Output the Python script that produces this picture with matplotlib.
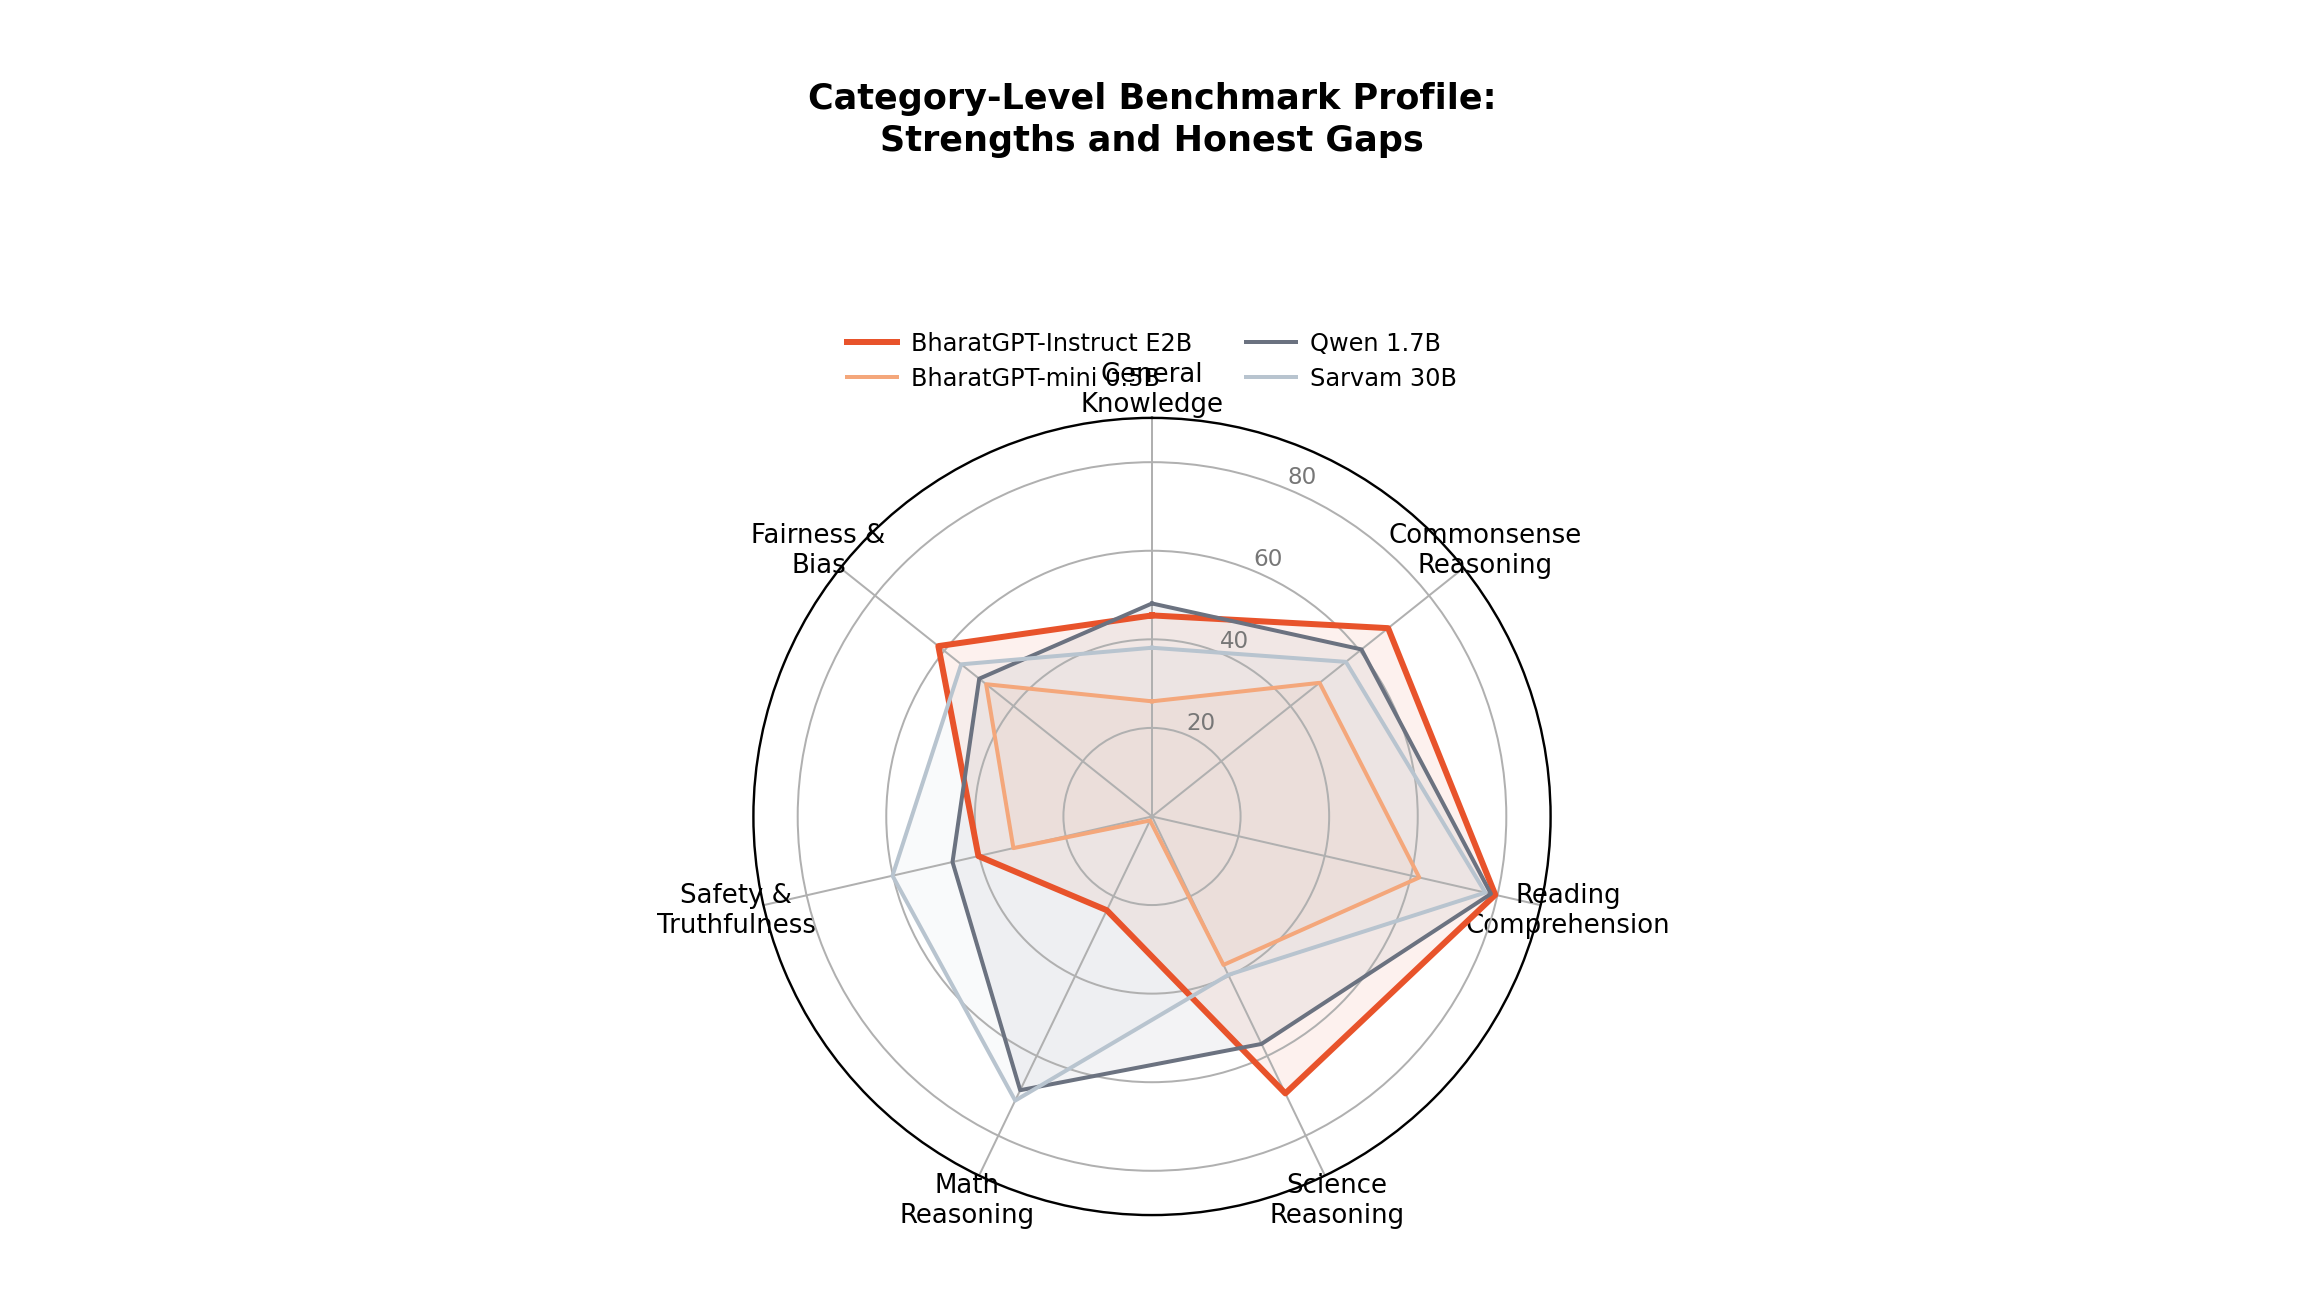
import numpy as np
import matplotlib.pyplot as plt

categories = ['General\nKnowledge', 'Commonsense\nReasoning', 'Reading\nComprehension',
              'Science\nReasoning', 'Math\nReasoning', 'Safety &\nTruthfulness', 'Fairness &\nBias']

e2b = [45.4, 68.2, 79.5, 69.4, 23.5, 40.2, 61.7]
mini = [26.0, 48.4, 61.9, 37.2, 1.0, 32.1, 47.9]
qwen = [48.1, 60.5, 78.5, 57.0, 68.6, 46.2, 49.9]
sarvam = [38.1, 56.0, 77.2, 39.7, 71.2, 60.1, 55.1]

models = ['BharatGPT-Instruct E2B', 'BharatGPT-mini 0.5B', 'Qwen 1.7B', 'Sarvam 30B']
series = [e2b, mini, qwen, sarvam]
colors = ['#E8532B', '#F4A77B', '#6B7280', '#B8C4CF']
widths = [3.0, 2.0, 2.0, 2.0]

n = len(categories)
angles = np.linspace(0, 2 * np.pi, n, endpoint=False).tolist()
angles_closed = angles + angles[:1]

fig = plt.figure(figsize=(16, 9), dpi=144)
ax = fig.add_axes([0.327, 0.062, 0.346, 0.616], projection='polar')
ax.set_theta_offset(np.pi / 2)
ax.set_theta_direction(-1)

for name, vals, c, lw in zip(models, series, colors, widths):
    v = vals + vals[:1]
    ax.plot(angles_closed, v, color=c, linewidth=lw, label=name)
    ax.fill(angles_closed, v, color=c, alpha=0.08)

ax.set_ylim(0, 90)
ax.set_yticks([20, 40, 60, 80])
ax.set_yticklabels(['20', '40', '60', '80'], color='#777777', fontsize=11.5)
ax.set_rlabel_position(22.5)
ax.set_xticks(angles)
ax.set_xticklabels(categories, fontsize=13)
ax.grid(color='#b0b0b0', linewidth=1.0)
ax.spines['polar'].set_color('black')
ax.spines['polar'].set_linewidth(1.2)

ax.legend(loc='upper center', bbox_to_anchor=(0.5, 1.135), ncol=2, frameon=False,
          fontsize=12, handlelength=2.1, handletextpad=0.6, columnspacing=2.2,
          labelspacing=0.45)

fig.suptitle('Category-Level Benchmark Profile:\nStrengths and Honest Gaps',
             fontsize=17.5, fontweight='bold', y=0.937, linespacing=1.3)

fig.savefig('out.png', dpi=144)
